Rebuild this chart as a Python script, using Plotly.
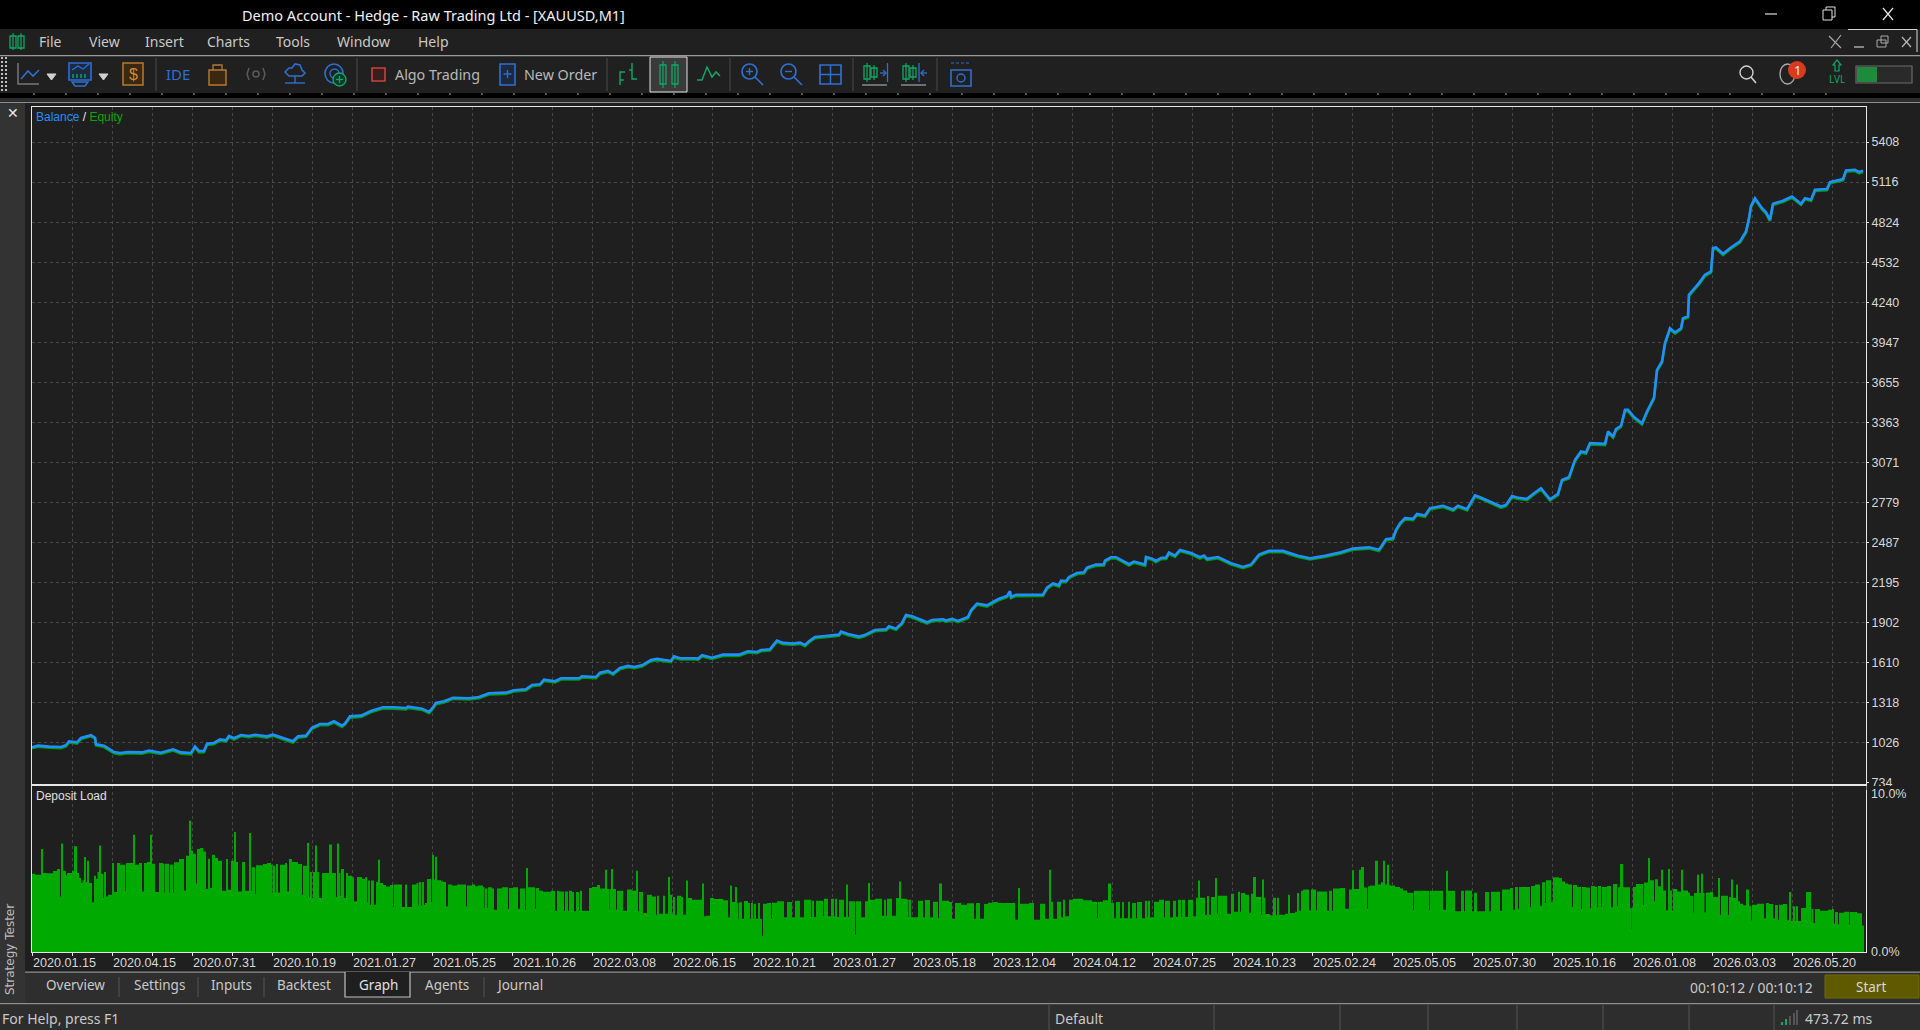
import plotly.graph_objects as go

W, H = 1920, 1030

# balance / equity curve, x = trade number
balance_x = [
    0, 6, 17, 29, 34, 37, 45, 49, 59, 63,
    64, 72, 82, 88, 96, 110, 117, 129, 141, 149,
    159, 163, 167, 172, 175, 182, 188, 194, 197, 202,
    209, 217, 223, 235, 241, 249, 261, 266, 274, 280,
    288, 296, 302, 310, 313, 318, 329, 339, 351, 361,
    374, 376, 390, 397, 400, 404, 412, 421, 437, 447,
    457, 474, 482, 494, 500, 508, 512, 523, 529, 547,
    550, 564, 568, 576, 581, 588, 596, 602, 610, 619,
    625, 636, 639, 642, 648, 663, 666, 670, 680, 691,
    707, 716, 725, 729, 738, 741, 745, 751, 761, 768,
    773, 777, 783, 791, 800, 807, 809, 816, 827, 832,
    843, 854, 857, 864, 870, 874, 880, 889, 895, 900,
    911, 914, 920, 926, 936, 939, 945, 955, 966, 975,
    978, 979, 984, 1011, 1015, 1021, 1027, 1029, 1034, 1037,
    1045, 1052, 1055, 1064, 1072, 1073, 1079, 1084, 1089, 1097,
    1102, 1113, 1114, 1120, 1124, 1129, 1134, 1137, 1143, 1148,
    1159, 1168, 1172, 1175, 1186, 1199, 1211, 1219, 1227, 1237,
    1251, 1266, 1278, 1293, 1309, 1321, 1337, 1347, 1354, 1361,
    1364, 1368, 1373, 1381, 1385, 1393, 1398, 1411, 1421, 1426,
    1435, 1443, 1448, 1456, 1469, 1474, 1480, 1485, 1495, 1502,
    1509, 1518, 1526, 1530, 1537, 1543, 1549, 1554, 1558, 1573,
    1576, 1581, 1584, 1589, 1593, 1596, 1602, 1610, 1615, 1622,
    1625, 1630, 1633, 1638, 1643, 1649, 1651, 1656, 1657, 1667,
    1673, 1679, 1681, 1684, 1691, 1699, 1708, 1714, 1717, 1719,
    1723, 1730, 1734, 1738, 1741, 1751, 1760, 1769, 1773, 1779,
    1783, 1795, 1798, 1811, 1814, 1823, 1827, 1831,
]
balance = [
    992, 1004, 997, 994, 1007, 1036, 1028, 1060, 1080, 1062,
    1014, 1004, 958, 951, 958, 955, 968, 953, 977, 955,
    951, 999, 965, 965, 1019, 1024, 1050, 1043, 1075, 1058,
    1082, 1075, 1084, 1072, 1084, 1067, 1036, 1072, 1077, 1135,
    1162, 1162, 1182, 1150, 1165, 1218, 1223, 1257, 1284, 1284,
    1279, 1289, 1274, 1250, 1274, 1316, 1328, 1354, 1350, 1359,
    1386, 1391, 1408, 1415, 1447, 1452, 1486, 1474, 1496, 1496,
    1510, 1505, 1537, 1549, 1530, 1571, 1586, 1578, 1590, 1629,
    1637, 1625, 1622, 1656, 1642, 1642, 1639, 1664, 1646, 1668,
    1668, 1693, 1688, 1702, 1707, 1736, 1771, 1754, 1749, 1756,
    1739, 1766, 1797, 1802, 1809, 1814, 1836, 1819, 1800, 1809,
    1848, 1853, 1875, 1858, 1900, 1958, 1948, 1919, 1904, 1921,
    1926, 1917, 1929, 1914, 1943, 1992, 2041, 2028, 2072, 2097,
    2131, 2089, 2104, 2106, 2157, 2187, 2174, 2208, 2206, 2235,
    2264, 2269, 2303, 2325, 2328, 2354, 2379, 2379, 2357, 2328,
    2347, 2325, 2381, 2369, 2352, 2374, 2376, 2413, 2391, 2432,
    2410, 2379, 2391, 2367, 2380, 2335, 2308, 2326, 2398, 2425,
    2425, 2390, 2371, 2389, 2416, 2442, 2451, 2433, 2510, 2517,
    2578, 2627, 2664, 2659, 2695, 2683, 2736, 2754, 2727, 2754,
    2729, 2831, 2817, 2790, 2749, 2761, 2826, 2814, 2805, 2846,
    2883, 2802, 2841, 2943, 2963, 3089, 3150, 3143, 3211, 3206,
    3296, 3260, 3313, 3338, 3454, 3454, 3401, 3357, 3442, 3544,
    3746, 3807, 3941, 4050, 4019, 4050, 4123, 4136, 4294, 4379,
    4440, 4464, 4634, 4639, 4593, 4639, 4683, 4756, 4853, 4943,
    4999, 4926, 4895, 4841, 4958, 4980, 5011, 4958, 4999, 4987,
    5060, 5065, 5116, 5138, 5201, 5206, 5189, 5199,
]
equity = [
    985, 996, 989, 985, 999, 1028, 1019, 1052, 1072, 1055,
    1006, 994, 948, 940, 949, 946, 958, 944, 969, 945,
    941, 991, 955, 956, 1010, 1015, 1041, 1034, 1066, 1048,
    1074, 1066, 1075, 1063, 1076, 1058, 1026, 1063, 1069, 1127,
    1153, 1154, 1173, 1141, 1157, 1209, 1214, 1248, 1276, 1274,
    1269, 1280, 1265, 1241, 1265, 1307, 1319, 1346, 1341, 1350,
    1377, 1382, 1399, 1406, 1438, 1444, 1477, 1465, 1487, 1487,
    1501, 1496, 1528, 1540, 1521, 1562, 1577, 1569, 1581, 1620,
    1628, 1616, 1613, 1647, 1633, 1634, 1630, 1655, 1637, 1659,
    1659, 1684, 1679, 1693, 1698, 1727, 1762, 1745, 1740, 1747,
    1730, 1757, 1788, 1793, 1800, 1805, 1827, 1810, 1791, 1800,
    1839, 1844, 1866, 1849, 1891, 1949, 1939, 1909, 1895, 1912,
    1917, 1908, 1920, 1905, 1934, 1983, 2032, 2019, 2063, 2088,
    2122, 2080, 2095, 2097, 2148, 2178, 2165, 2199, 2197, 2226,
    2255, 2260, 2294, 2316, 2319, 2345, 2370, 2370, 2348, 2319,
    2338, 2316, 2372, 2360, 2343, 2365, 2367, 2404, 2382, 2423,
    2401, 2370, 2382, 2358, 2371, 2326, 2299, 2317, 2389, 2416,
    2416, 2381, 2362, 2380, 2407, 2433, 2442, 2424, 2501, 2508,
    2569, 2618, 2655, 2650, 2686, 2674, 2727, 2745, 2718, 2745,
    2720, 2822, 2808, 2781, 2740, 2752, 2817, 2805, 2796, 2837,
    2874, 2793, 2832, 2934, 2954, 3080, 3141, 3134, 3202, 3197,
    3287, 3251, 3304, 3329, 3445, 3445, 3392, 3348, 3433, 3535,
    3737, 3798, 3932, 4041, 4010, 4041, 4114, 4127, 4285, 4370,
    4431, 4455, 4625, 4630, 4584, 4630, 4674, 4747, 4844, 4934,
    4990, 4917, 4886, 4832, 4949, 4971, 5002, 4949, 4990, 4978,
    5051, 5056, 5107, 5129, 5192, 5197, 5180, 5190,
]

balance_ticks = [5408, 5116, 4824, 4532, 4240, 3947, 3655, 3363, 3071, 2779,
                 2487, 2195, 1902, 1610, 1318, 1026, 734]

# deposit load histogram: each bar starts at load_x and runs to the next one
load_x = [
    0, 3, 9, 11, 15, 21, 25, 28, 29, 31, 34, 35, 40, 42, 45, 47, 49, 51, 52, 54,
    55, 57, 60, 62, 64, 66, 67, 69, 71, 72, 74, 76, 80, 82, 85, 88, 93, 94, 101, 103,
    107, 110, 112, 115, 118, 120, 123, 127, 131, 132, 133, 137, 138, 141, 142, 147, 152, 154, 157, 159,
    161, 164, 165, 168, 171, 174, 176, 178, 180, 183, 186, 190, 194, 196, 199, 202, 204, 206, 210, 213,
    217, 219, 220, 223, 224, 231, 235, 239, 240, 241, 243, 244, 246, 248, 253, 255, 257, 260, 266, 270,
    271, 275, 277, 278, 280, 281, 283, 285, 287, 290, 297, 300, 304, 305, 307, 308, 309, 312, 314, 316,
    320, 322, 325, 330, 333, 335, 336, 338, 339, 342, 344, 346, 348, 351, 354, 358, 361, 362, 370, 373,
    375, 380, 385, 386, 387, 389, 390, 392, 393, 395, 399, 400, 402, 403, 405, 409, 411, 414, 416, 420,
    425, 434, 435, 440, 443, 446, 451, 452, 453, 455, 456, 460, 462, 465, 470, 476, 477, 481, 486, 488,
    493, 494, 496, 503, 504, 507, 511, 519, 523, 525, 527, 532, 533, 536, 537, 540, 542, 544, 547, 548,
    550, 557, 560, 565, 568, 573, 575, 577, 578, 579, 581, 584, 585, 591, 595, 600, 604, 606, 607, 611,
    615, 620, 624, 625, 627, 631, 633, 636, 638, 640, 641, 643, 645, 649, 651, 654, 656, 660, 670, 672,
    674, 678, 682, 691, 696, 698, 700, 703, 705, 706, 707, 710, 712, 716, 718, 719, 721, 722, 724, 726,
    728, 730, 731, 735, 739, 740, 745, 752, 755, 760, 763, 768, 772, 779, 780, 782, 784, 791, 792, 796,
    799, 802, 803, 805, 807, 812, 814, 816, 817, 823, 824, 829, 833, 836, 838, 843, 850, 852, 854, 855,
    860, 864, 867, 869, 875, 876, 877, 879, 886, 891, 893, 898, 901, 906, 907, 910, 917, 920, 923, 929,
    935, 942, 944, 948, 952, 956, 961, 966, 983, 986, 988, 997, 1002, 1008, 1013, 1017, 1019, 1021, 1025, 1029,
    1031, 1033, 1037, 1041, 1051, 1060, 1065, 1066, 1071, 1076, 1079, 1082, 1084, 1088, 1090, 1092, 1096, 1098, 1100, 1104,
    1105, 1110, 1113, 1115, 1116, 1118, 1122, 1127, 1132, 1133, 1138, 1141, 1144, 1146, 1149, 1150, 1153, 1156, 1161, 1164,
    1166, 1168, 1173, 1175, 1177, 1179, 1183, 1185, 1186, 1195, 1199, 1202, 1206, 1208, 1209, 1213, 1217, 1219, 1221, 1224,
    1229, 1230, 1232, 1233, 1238, 1241, 1244, 1245, 1247, 1253, 1256, 1258, 1263, 1265, 1267, 1269, 1271, 1277, 1279, 1284,
    1285, 1295, 1297, 1300, 1301, 1308, 1313, 1317, 1320, 1322, 1327, 1329, 1332, 1335, 1336, 1338, 1343, 1346, 1349, 1351,
    1353, 1355, 1357, 1363, 1368, 1371, 1375, 1381, 1382, 1397, 1398, 1411, 1414, 1416, 1423, 1429, 1432, 1433, 1440, 1442,
    1445, 1453, 1457, 1459, 1468, 1470, 1478, 1481, 1483, 1486, 1487, 1498, 1499, 1503, 1508, 1510, 1513, 1514, 1519, 1521,
    1527, 1530, 1533, 1536, 1540, 1541, 1545, 1549, 1550, 1554, 1558, 1559, 1563, 1565, 1566, 1569, 1570, 1575, 1579, 1581,
    1585, 1586, 1588, 1591, 1598, 1599, 1600, 1601, 1604, 1611, 1612, 1616, 1618, 1622, 1623, 1626, 1629, 1631, 1634, 1636,
    1638, 1640, 1641, 1645, 1649, 1651, 1656, 1658, 1661, 1662, 1665, 1667, 1669, 1671, 1672, 1674, 1678, 1681, 1686, 1688,
    1689, 1696, 1697, 1699, 1701, 1704, 1706, 1708, 1711, 1714, 1717, 1719, 1720, 1725, 1732, 1734, 1737, 1741, 1743, 1746,
    1747, 1751, 1755, 1757, 1759, 1761, 1763, 1764, 1766, 1769, 1774, 1779, 1780, 1781, 1783, 1788, 1796, 1800, 1802, 1803,
    1806, 1807, 1812, 1817, 1818, 1825, 1830, 1832,
]
load_y = [
    4.72, 4.66, 6.20, 4.76, 4.74, 4.88, 5.00, 3.35, 6.53, 4.90, 4.62, 4.76, 4.88, 6.37, 4.76, 4.46, 4.16, 4.32, 5.72, 4.22,
    5.50, 4.16, 2.99, 4.60, 4.42, 4.82, 6.41, 4.72, 3.25, 4.82, 3.35, 3.45, 5.36, 3.61, 5.36, 5.26, 3.65, 5.36, 7.07, 5.26,
    5.36, 3.65, 5.36, 5.42, 7.07, 5.32, 3.61, 5.36, 5.32, 3.59, 5.32, 3.59, 5.26, 3.59, 5.40, 5.60, 3.71, 5.80, 7.91, 6.12,
    5.92, 4.12, 6.20, 6.27, 6.06, 3.80, 5.62, 3.86, 5.86, 5.66, 5.50, 3.69, 5.60, 3.75, 5.50, 7.23, 5.42, 3.65, 5.42, 3.69,
    7.17, 3.69, 5.10, 3.50, 5.22, 5.30, 5.36, 5.26, 3.59, 5.20, 3.59, 5.30, 3.59, 5.26, 5.36, 3.65, 5.60, 5.42, 5.30, 3.45,
    5.20, 6.57, 3.30, 4.82, 3.25, 4.82, 6.41, 4.82, 3.25, 4.76, 6.47, 4.76, 3.31, 6.53, 4.76, 3.39, 5.00, 3.25, 4.76, 4.60,
    4.50, 3.05, 4.52, 4.42, 4.50, 2.99, 4.30, 2.85, 4.30, 2.85, 4.22, 5.56, 4.16, 4.04, 3.94, 4.04, 2.71, 4.06, 2.71, 4.06,
    2.71, 4.06, 4.16, 2.79, 4.22, 2.79, 4.22, 2.85, 2.95, 4.40, 2.99, 5.86, 4.36, 5.74, 4.32, 4.26, 4.22, 2.75, 4.06, 4.00,
    4.06, 2.75, 4.00, 4.06, 3.96, 4.00, 3.90, 2.65, 3.82, 2.65, 3.90, 3.82, 2.55, 3.82, 3.90, 2.61, 3.86, 3.90, 2.61, 3.82,
    2.55, 5.06, 3.90, 2.61, 3.86, 3.69, 3.63, 3.69, 2.49, 3.69, 3.65, 2.49, 3.65, 2.49, 3.69, 3.61, 2.45, 3.61, 2.49, 3.69,
    2.49, 3.86, 3.92, 4.04, 3.82, 4.96, 3.80, 2.55, 3.80, 5.00, 3.80, 2.55, 3.69, 2.49, 3.76, 3.69, 4.90, 2.45, 3.61, 2.35,
    3.45, 3.35, 2.25, 3.39, 2.31, 3.39, 2.31, 4.52, 3.45, 2.31, 3.31, 2.25, 3.39, 3.31, 2.25, 4.30, 3.25, 3.15, 4.12, 2.15,
    2.19, 3.25, 3.19, 3.11, 2.09, 4.00, 3.01, 3.92, 2.95, 2.01, 2.99, 2.01, 3.07, 2.95, 2.01, 2.95, 2.01, 2.91, 2.01, 2.95,
    2.01, 0.98, 2.91, 2.95, 2.01, 2.97, 3.05, 2.09, 3.01, 2.09, 3.09, 2.09, 3.15, 2.11, 3.09, 2.11, 3.09, 2.15, 3.21, 2.15,
    3.21, 2.15, 3.21, 2.11, 3.15, 2.11, 4.06, 2.11, 3.05, 1.04, 3.05, 2.09, 3.05, 4.16, 3.15, 3.21, 2.19, 3.15, 2.19, 3.21,
    2.19, 3.25, 4.24, 3.21, 3.15, 2.11, 3.15, 2.09, 3.09, 2.09, 3.13, 2.09, 3.03, 2.05, 4.12, 3.09, 3.01, 2.01, 2.95, 2.85,
    2.93, 2.01, 2.95, 2.01, 2.89, 2.97, 3.01, 2.95, 1.95, 3.86, 2.91, 2.95, 1.95, 2.91, 2.01, 4.96, 3.03, 2.01, 3.03, 2.09,
    3.15, 2.15, 3.15, 3.21, 3.11, 3.03, 2.03, 3.03, 3.11, 4.12, 2.95, 2.03, 3.01, 2.03, 3.01, 2.03, 3.03, 2.03, 2.95, 2.03,
    3.01, 2.03, 3.09, 2.09, 3.09, 2.09, 3.03, 3.15, 2.09, 3.09, 2.09, 3.09, 2.13, 3.15, 2.11, 3.15, 2.11, 3.15, 2.15, 3.27,
    4.30, 3.27, 2.23, 3.37, 2.25, 3.31, 4.46, 2.31, 3.39, 2.31, 3.51, 2.43, 3.63, 2.43, 3.55, 3.45, 2.35, 3.51, 4.52, 3.31,
    2.25, 4.36, 3.27, 2.29, 2.21, 3.27, 2.21, 3.27, 2.25, 2.31, 3.45, 2.35, 2.43, 3.55, 2.49, 3.69, 3.76, 2.51, 3.76, 2.51,
    3.65, 2.49, 3.69, 2.49, 3.82, 3.86, 2.61, 3.76, 4.92, 3.80, 4.96, 5.12, 3.88, 2.61, 3.96, 4.00, 5.50, 4.06, 4.20, 5.50,
    4.06, 5.26, 4.00, 3.92, 3.82, 3.71, 3.57, 2.51, 3.69, 2.51, 3.69, 2.55, 4.90, 3.69, 2.45, 3.69, 2.45, 3.71, 2.45, 3.57,
    2.45, 3.61, 2.45, 3.63, 2.49, 3.76, 3.86, 2.55, 3.92, 2.61, 3.92, 2.73, 3.98, 4.06, 2.79, 4.20, 2.95, 4.32, 2.99, 4.50,
    4.46, 4.24, 4.12, 4.06, 2.73, 4.04, 3.92, 2.59, 3.92, 3.88, 2.63, 3.98, 3.92, 2.69, 3.98, 2.69, 3.92, 3.98, 2.69, 4.10,
    2.75, 3.90, 5.30, 3.90, 2.65, 1.39, 2.65, 3.92, 4.10, 2.85, 4.18, 5.66, 4.32, 3.05, 4.38, 3.96, 4.96, 3.71, 2.51, 5.00,
    3.71, 2.51, 3.80, 3.65, 4.96, 3.71, 3.59, 3.39, 2.39, 3.55, 4.66, 3.55, 4.72, 3.55, 2.39, 3.59, 3.63, 3.31, 4.46, 2.25,
    3.39, 2.25, 3.31, 4.36, 3.25, 4.06, 3.05, 2.91, 2.81, 3.76, 2.79, 1.91, 2.85, 2.91, 2.03, 2.95, 2.89, 2.03, 2.83, 1.95,
    2.85, 2.89, 1.91, 3.61, 1.87, 2.75, 1.87, 2.75, 1.87, 2.65, 3.61, 1.79, 2.59, 1.75, 2.59, 2.49, 2.55, 2.59, 1.71, 2.41,
    1.67, 2.37, 2.43, 1.65, 2.41, 2.33, 1.59,
]
load_ticks = ["10.0%", "0.0%"]

date_labels = ["2020.01.15", "2020.04.15", "2020.07.31", "2020.10.19", "2021.01.27", "2021.05.25",
               "2021.10.26", "2022.03.08", "2022.06.15", "2022.10.21", "2023.01.27", "2023.05.18",
               "2023.12.04", "2024.04.12", "2024.07.25", "2024.10.23", "2025.02.24", "2025.05.05",
               "2025.07.30", "2025.10.16", "2026.01.08", "2026.03.03", "2026.05.20"]

menu_items = ["File", "View", "Insert", "Charts", "Tools", "Window", "Help"]
menu_pos = [50, 104, 164, 228, 293, 363, 433]
tab_items = ["Overview", "Settings", "Inputs", "Backtest", "Graph", "Agents", "Journal"]
tab_pos = [75, 159, 231, 304, 378, 447, 519]

BG = "#1f1f1f"
GRID = "#474747"
FRAME = "#e6e6e6"
BLUE = "#1e90ff"
GREEN = "#00aa00"
ICON = "#2f6fd0"
ICON_GREEN = "#0fa866"
ORANGE = "#b87a30"
TXT = "#c9c9c9"
UI_FONT = "Noto Sans"

shapes = []
notes = []


def px(x):
    return x / W


def py(y):
    return 1 - y / H


def box(x0, y0, x1, y1, fill=None, line=None, width=1):
    shapes.append(dict(type="rect", xref="paper", yref="paper", layer="above",
                       x0=px(x0), x1=px(x1), y0=py(y0), y1=py(y1),
                       fillcolor=fill or "rgba(0,0,0,0)",
                       line=dict(color=line or "rgba(0,0,0,0)", width=width if line else 0)))


def oval(x0, y0, x1, y1, fill=None, line=None, width=1.5):
    shapes.append(dict(type="circle", xref="paper", yref="paper", layer="above",
                       x0=px(x0), x1=px(x1), y0=py(y0), y1=py(y1),
                       fillcolor=fill or "rgba(0,0,0,0)",
                       line=dict(color=line or "rgba(0,0,0,0)", width=width if line else 0)))


def poly(points, color, width=1.5, fill=None, closed=False):
    path = "M " + " L ".join(f"{px(a):.5f} {py(b):.5f}" for a, b in points)
    if closed:
        path += " Z"
    shapes.append(dict(type="path", xref="paper", yref="paper", layer="above", path=path,
                       fillcolor=fill or "rgba(0,0,0,0)", line=dict(color=color, width=width)))


def label(x, y, text, size=14, color=TXT, anchor="left", font=UI_FONT, angle=0):
    notes.append(dict(x=px(x), y=py(y), xref="paper", yref="paper", text=text, showarrow=False,
                      xanchor=anchor, yanchor="middle", textangle=angle,
                      font=dict(size=size, color=color, family=font), borderpad=0, borderwidth=0))


def candle(x, y0, y1, wick0, wick1, color):
    poly([(x, wick0), (x, wick1)], color, 1.2)
    box(x - 3, y0, x + 3, y1, line=color, width=1.3)


# window chrome
box(0, 0, W, 29, fill="#000000")
box(0, 29, W, 55, fill="#202020")
box(0, 55, W, 56.5, fill="#9a9a9a")
box(0, 56.5, W, 93, fill="#202020")
box(0, 93, W, 98, fill="#000000")
box(0, 98, W, 102, fill="#2d2d2d")
box(0, 102, W, 103, fill="#8c8c8c")
box(0, 103, 25, 1004, fill="#333333")
box(0, 972, W, 1003, fill="#2e2e2e")
box(0, 971.5, W, 972.7, fill="#8f8f8f")
box(0, 1003, W, 1004.5, fill="#8f8f8f")
box(0, 1004.5, W, H, fill="#2d2d2d")
box(0, 952.5, 25, 1003, fill="#333333")
box(1866.5, 786, W, 790, fill=BG)
for tick in range(34, 1830, 32):
    poly([(tick, 93), (tick, 95)], "#a0a0a0", 1)
for dot in range(57, 93, 4):
    box(1, dot, 3, dot + 2, fill="#c0c0c0")
    box(5, dot, 7, dot + 2, fill="#c0c0c0")

label(242, 15, "Demo Account - Hedge - Raw Trading Ltd - [XAUUSD,M1]", 14.5, "#f0f0f0")
poly([(1765, 14), (1777, 14)], "#e0e0e0", 1.2)
box(1823, 10, 1832, 20, line="#e0e0e0")
poly([(1826, 10), (1826, 7), (1835, 7), (1835, 17), (1832, 17)], "#e0e0e0", 1)
poly([(1883, 8), (1893, 20)], "#e8e8e8", 1.2)
poly([(1893, 8), (1883, 20)], "#e8e8e8", 1.2)
poly([(1848, 29.5), (1917, 29.5), (1917, 52)], "#d8d8d8", 1)
poly([(1829, 36), (1841, 48)], "#a8a8a8", 1.2)
poly([(1841, 35), (1831, 48)], "#a8a8a8", 1.2)
poly([(1854, 47), (1864, 47)], "#a8a8a8", 1.5)
box(1877, 40, 1886, 47, line="#a8a8a8")
box(1881, 36, 1888, 43, line="#a8a8a8")
poly([(1902, 37), (1911, 47)], "#b8b8b8", 1.2)
poly([(1911, 37), (1902, 47)], "#b8b8b8", 1.2)

# menu
candle(13, 36, 48, 33, 50, ICON_GREEN)
candle(21, 36, 48, 33, 50, ICON_GREEN)
for name, pos in zip(menu_items, menu_pos):
    label(pos, 42, name, 14, TXT, "center")

# toolbar icons
poly([(18, 63), (18, 84), (39, 84)], "#777777", 1.5)
poly([(21, 79), (28, 71), (33, 76), (39, 70)], ICON, 1.6)
poly([(47, 74), (56, 74), (51.5, 80)], "#d0d0d0", 1, fill="#d0d0d0", closed=True)
box(69, 63, 91, 80, line=ICON, width=1.6, fill="#1c2a40")
poly([(72, 82), (88, 82), (85, 86), (75, 86)], ICON, 1.4, closed=True)
poly([(72, 70), (78, 66), (83, 69), (89, 64)], ICON, 1.3)
for bar in (73, 77, 81, 85):
    poly([(bar, 78), (bar, 74)], ICON_GREEN, 1.4)
poly([(99, 74), (108, 74), (103.5, 80)], "#d0d0d0", 1, fill="#d0d0d0", closed=True)
box(123, 63, 143, 85, line=ORANGE, width=1.5, fill="#3a2810")
label(133, 74, "$", 16, "#d08a38", "center", font="Liberation Sans")
poly([(156, 58), (156, 91)], "#4a4a4a", 1)
label(178, 74, "IDE", 15, ICON, "center")
poly([(209, 70), (226, 70), (226, 85), (209, 85)], ORANGE, 1.4, fill="#3a2810", closed=True)
poly([(213, 70), (213, 65), (222, 65), (222, 70)], ORANGE, 1.3)
oval(253, 71, 259, 77, line="#5a5a5a")
poly([(249, 68), (247, 74), (249, 80)], "#5a5a5a", 1.5)
poly([(263, 68), (265, 74), (263, 80)], "#5a5a5a", 1.5)
poly([(289, 76), (285, 72), (289, 68), (292, 68), (295, 64), (300, 65), (302, 70), (305, 73), (302, 76)],
     ICON, 1.6, closed=True)
poly([(295, 76), (295, 83)], ICON, 1.4)
poly([(285, 83), (305, 83)], ICON, 1.4)
oval(325, 64, 343, 83, line=ICON, width=1.6)
oval(330, 69, 339, 78, line=ICON, width=1.4)
oval(333, 73, 346, 86, fill="#0d3a2a", line=ICON_GREEN, width=1.4)
poly([(339.5, 76), (339.5, 83)], ICON_GREEN, 1.3)
poly([(336, 79.5), (343, 79.5)], ICON_GREEN, 1.3)
poly([(357, 58), (357, 91)], "#4a4a4a", 1)
box(372, 68, 385, 81, line="#cc4040", fill="#3a1e1e", width=1.6)
label(395, 75, "Algo Trading", 14.3, "#b8b8b8")
box(500, 64, 515, 85, line=ICON, width=1.6, fill="#1c2a40")
poly([(503.5, 74), (511.5, 74)], ICON, 1.4)
poly([(507.5, 70), (507.5, 78)], ICON, 1.4)
label(524, 75, "New Order", 14.3, "#b8b8b8")
poly([(607, 58), (607, 91)], "#4a4a4a", 1)
poly([(620, 85), (620, 72), (625, 72)], ICON_GREEN, 1.4)
poly([(620, 80), (624, 80)], ICON_GREEN, 1.4)
poly([(632, 63), (632, 79), (637, 79)], ICON_GREEN, 1.4)
poly([(629, 70), (632, 70)], ICON_GREEN, 1.4)
box(650, 57, 687, 92, line="#e0e0e0", fill="#3a3a3a")
candle(663, 65, 84, 61, 88, ICON_GREEN)
candle(675, 65, 84, 61, 88, ICON_GREEN)
poly([(697, 80), (702, 80), (707, 67), (712, 77), (716, 72), (720, 76)], ICON_GREEN, 1.5)
poly([(730, 58), (730, 91)], "#4a4a4a", 1)
for x0, minus in ((742, False), (781, True)):
    oval(x0, 64, x0 + 15, 79, line=ICON, width=1.7)
    poly([(x0 + 13, 77), (x0 + 21, 85)], ICON, 1.7)
    poly([(x0 + 4, 71.5), (x0 + 11, 71.5)], ICON, 1.4)
    if not minus:
        poly([(x0 + 7.5, 68), (x0 + 7.5, 75)], ICON, 1.4)
box(820, 65, 841, 84, line=ICON, width=1.7)
poly([(830.5, 65), (830.5, 84)], ICON, 1.5)
poly([(820, 74.5), (841, 74.5)], ICON, 1.5)
poly([(853, 58), (853, 91)], "#4a4a4a", 1)
candle(867, 66, 79, 63, 82, ICON_GREEN)
candle(874, 68, 77, 65, 80, ICON_GREEN)
poly([(880, 73), (886, 73)], ICON, 1.3)
poly([(883, 70), (886, 73), (883, 76)], ICON, 1.3)
poly([(887.5, 63), (887.5, 82)], ICON, 1.3)
poly([(862, 85), (887, 85)], "#9a9a9a", 1.3)
candle(906, 66, 79, 63, 82, ICON_GREEN)
candle(913, 68, 77, 65, 80, ICON_GREEN)
poly([(919, 63), (919, 82)], ICON, 1.3)
poly([(927, 73), (921, 73)], ICON, 1.3)
poly([(924, 70), (921, 73), (924, 76)], ICON, 1.3)
poly([(901, 85), (926, 85)], "#9a9a9a", 1.3)
poly([(937, 58), (937, 91)], "#4a4a4a", 1)
box(951, 70, 971, 86, line=ICON, width=1.6)
oval(957, 74, 965, 82, line=ICON, width=1.4)
for gap in (951, 956, 961, 966):
    poly([(gap, 63), (gap + 3, 63)], ICON, 1)
oval(1740, 66, 1753, 79, line="#cfcfcf", width=1.4)
poly([(1751, 77), (1756, 83)], "#cfcfcf", 1.6)
oval(1780, 64, 1795, 84, line="#a8a8a8", width=1.4)
oval(1788, 61, 1806, 79, fill="#d93a20")
label(1797, 70, "1", 13, "#e8e8e8", "center")
poly([(1837, 60), (1841, 65), (1839, 65), (1839, 71), (1835, 71), (1835, 65), (1833, 65)], ICON_GREEN, 1.2, closed=True)
label(1837, 79, "LVL", 10, ICON_GREEN, "center")
box(1856, 66, 1912, 83, line="#6a6a6a", fill="#2a2a2a", width=1.2)
box(1857, 67, 1877, 82, fill="#1e8a3c")

# side strip / panel captions
label(13, 113, "✕", 14, "#e8e8e8", "center", font="DejaVu Sans")
label(10, 950, "Strategy Tester", 12, "#bdbdbd", "center", font="DejaVu Sans", angle=-90)
label(36, 117, "<span style='color:#1e90ff'>Balance</span> / <span style='color:#00aa00'>Equity</span>",
      12, "#e6e6e6", font="Liberation Sans")
label(36, 796, "Deposit Load", 12, "#e0e0e0", font="Liberation Sans")
label(1871, 794, load_ticks[0], 12.5, "#d8d8d8", font="Liberation Sans")
label(1871, 952, load_ticks[1], 12.5, "#d8d8d8", font="Liberation Sans")

# tabs and status bar
box(345, 972, 410, 997, fill=BG)
poly([(345, 972), (345, 997), (410, 997), (410, 972)], "#c0c0c0", 1.2)
for sep in (119, 198, 264, 484):
    poly([(sep, 977), (sep, 997)], "#555555", 1)
for name, pos in zip(tab_items, tab_pos):
    label(pos, 985, name, 13.5, "#e0e0e0" if name == "Graph" else TXT, "center")
label(1813, 987, "00:10:12 / 00:10:12", 13.9, TXT, "right")
box(1825, 975, 1919, 998, fill="#5f5a00", line="#6f6a10")
label(1871, 987, "Start", 13.5, "#d8d8d8", "center")
label(2, 1018, "For Help, press F1", 14, TXT)
label(1055, 1018, "Default", 14, TXT)
for sep in (1049, 1214, 1340, 1428, 1517, 1603, 1689, 1774):
    poly([(sep, 1005), (sep, H)], "#555555", 1)
for bar, top, col in ((1782, 1022, "#0fa866"), (1786, 1019, "#0fa866"), (1790, 1016, "#555555"), (1794, 1013, "#555555"), (1797, 1010, "#555555")):
    poly([(bar, 1025), (bar, top)], col, 2)
label(1805, 1018, "473.72 ms", 14, TXT)

# date labels sit right of their tick, one every two grid cells
label_pos = [i * 80 for i in range(len(date_labels))]
for name, pos in zip(date_labels, label_pos):
    notes.append(dict(x=pos, y=py(962.5), xref="x2", yref="paper", text=name, showarrow=False,
                      xanchor="left", yanchor="middle", borderpad=0,
                      font=dict(size=12.6, color="#d8d8d8", family="Liberation Sans")))

load_width = [b - a for a, b in zip(load_x[:-1], load_x[1:])]

fig = go.Figure()
fig.add_trace(go.Scatter(x=balance_x, y=equity, mode="lines", line=dict(color="#009a00", width=2.6),
                         xaxis="x", yaxis="y", name="Equity"))
fig.add_trace(go.Scatter(x=balance_x, y=balance, mode="lines", line=dict(color=BLUE, width=2.6),
                         xaxis="x", yaxis="y", name="Balance"))
fig.add_trace(go.Bar(x=load_x[:-1], y=load_y, width=load_width, offset=0, marker=dict(color=GREEN, line=dict(width=0)),
                     xaxis="x2", yaxis="y2", name="Deposit Load"))

x_common = dict(range=[-0.5, 1834], dtick=40, tick0=0, showgrid=True, gridcolor=GRID, griddash="3px,3px",
                gridwidth=1, zeroline=False, showline=True, linecolor=FRAME, linewidth=1, mirror=True,
                domain=[px(31.5), px(1866)])
fig.update_layout(
    width=W, height=H, margin=dict(l=0, r=0, t=0, b=0, pad=0, autoexpand=False), showlegend=False, autosize=False,
    paper_bgcolor=BG, plot_bgcolor=BG, barmode="overlay", hovermode=False,
    font=dict(family="Liberation Sans", size=12.5, color="#d8d8d8"),
    xaxis=dict(anchor="y", showticklabels=False, ticks="", **x_common),
    yaxis=dict(anchor="x", domain=[py(783.5), py(107)], range=[728, 5664], side="right",
               tickmode="array", tickvals=balance_ticks, ticktext=[str(t) for t in balance_ticks],
               ticks="outside", ticklen=2, tickcolor=FRAME, showgrid=True, gridcolor=GRID,
               griddash="3px,3px", zeroline=False, showline=True, linecolor=FRAME, linewidth=1, mirror=True),
    xaxis2=dict(anchor="y2", showticklabels=False, ticks="outside", ticklen=3, tickcolor=FRAME, **x_common),
    yaxis2=dict(anchor="x2", domain=[py(952), py(786)], range=[0, 10], side="right", showticklabels=False,
                ticks="", showgrid=False, zeroline=False, showline=True, linecolor=FRAME, linewidth=1, mirror=True),
    shapes=shapes, annotations=notes,
)

print(len(balance_x), len(balance), len(equity), len(load_x), len(load_y))

fig.write_html("out.html", config=dict(displayModeBar=False),
               post_script="document.body.style.margin='0';document.body.style.overflow='hidden';")
